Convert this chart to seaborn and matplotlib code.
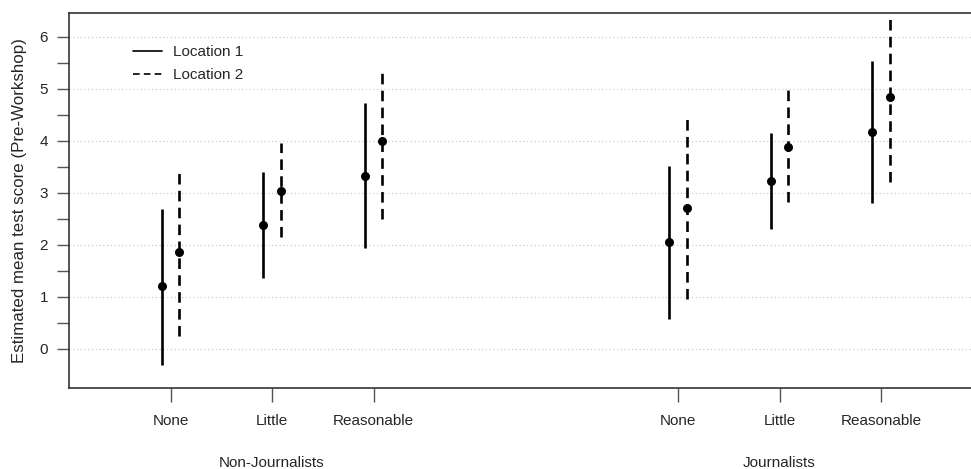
import numpy as np
import pandas as pd
import matplotlib
matplotlib.use("Agg")
import matplotlib.pyplot as plt
from matplotlib.lines import Line2D
from matplotlib.ticker import FixedLocator
import seaborn as sns

sns.set_theme(style="white")
plt.rcParams['font.family'] = ['Liberation Sans', 'DejaVu Sans']

groups = ["Non-Journalists", "Journalists"]
levels = ["None", "Little", "Reasonable"]
locations = ["Location 1", "Location 2"]

# estimates, lower and upper bounds, ordered group x level
loc1_est = [1.21, 2.38, 3.33, 2.06, 3.23, 4.17]
loc1_lo = [-0.31, 1.37, 1.94, 0.58, 2.31, 2.81]
loc1_hi = [2.69, 3.40, 4.73, 3.52, 4.15, 5.54]
loc2_est = [1.87, 3.04, 4.00, 2.71, 3.88, 4.85]
loc2_lo = [0.25, 2.15, 2.50, 0.96, 2.83, 3.21]
loc2_hi = [3.42, 3.96, 5.35, 4.44, 4.98, 6.42]

positions = [1, 2, 3, 6, 7, 8]
rows = []
for loc, est, lo, hi, off in [(locations[0], loc1_est, loc1_lo, loc1_hi, -0.085),
                              (locations[1], loc2_est, loc2_lo, loc2_hi, 0.085)]:
    for i, p in enumerate(positions):
        rows.append(dict(location=loc, x=p + off, est=est[i], lo=lo[i], hi=hi[i]))
df = pd.DataFrame(rows)

fig = plt.figure(figsize=(9.71, 4.69), dpi=100)
W, H = 971, 469
x0, unit = 69, 101.5
ax = fig.add_axes([x0 / W, (H - 388) / H, 9 * unit / W, 375 / H])

styles = {locations[0]: "-", locations[1]: (0, (4, 2.4))}
for loc in locations:
    d = df[df.location == loc]
    ax.vlines(d.x, d.lo, d.hi, colors="black", linestyles=[styles[loc]], linewidth=1.9, zorder=3)
sns.scatterplot(data=df, x="x", y="est", color="black", s=42, edgecolor="black",
                linewidth=0, ax=ax, zorder=4, legend=False)

FS = 11
ax.set_xlim(0, 9)
ax.set_ylim(-0.75, 6.46)
ax.set_xticks(positions)
ax.set_xticklabels(levels * 2, fontsize=FS)
ax.set_yticks(range(0, 7))
ax.set_yticklabels([str(v) for v in range(0, 7)], fontsize=FS)
ax.yaxis.set_minor_locator(FixedLocator([v + 0.5 for v in range(0, 6)]))
ax.tick_params(axis="y", which="both", direction="out", length=9, width=1, color="#555555",
               left=True, pad=6)
ax.tick_params(axis="x", direction="out", length=10, width=1, color="#555555", bottom=True, pad=9)
ax.set_xlabel("")
ax.set_ylabel("Estimated mean test score (Pre-Workshop)", fontsize=12.2, labelpad=9)

for yv in range(0, 7):
    ax.axhline(yv, color="#cccccc", linestyle=(0, (1, 2)), linewidth=0.9, zorder=1)

for sp in ["left", "top", "bottom"]:
    ax.spines[sp].set_color("#333333")
    ax.spines[sp].set_linewidth(1.2)
ax.spines["right"].set_visible(False)

for g, c in zip(groups, [2, 7]):
    ax.text(c, -0.75 - (463 - 388) / 52, g, ha="center", va="center", fontsize=FS)

handles = [Line2D([0], [0], color="black", linestyle="-", linewidth=1.2),
           Line2D([0], [0], color="black", linestyle=(0, (4, 2.5)), linewidth=1.2)]
leg = ax.legend(handles, locations, loc="upper left",
                bbox_to_anchor=((133 - x0) / (9 * unit), (388 - 45) / 375),
                frameon=False, fontsize=FS, handlelength=1.9, handletextpad=0.7,
                labelspacing=0.6, borderaxespad=0, borderpad=0)

fig.savefig("out.png", dpi=100, facecolor="white")
